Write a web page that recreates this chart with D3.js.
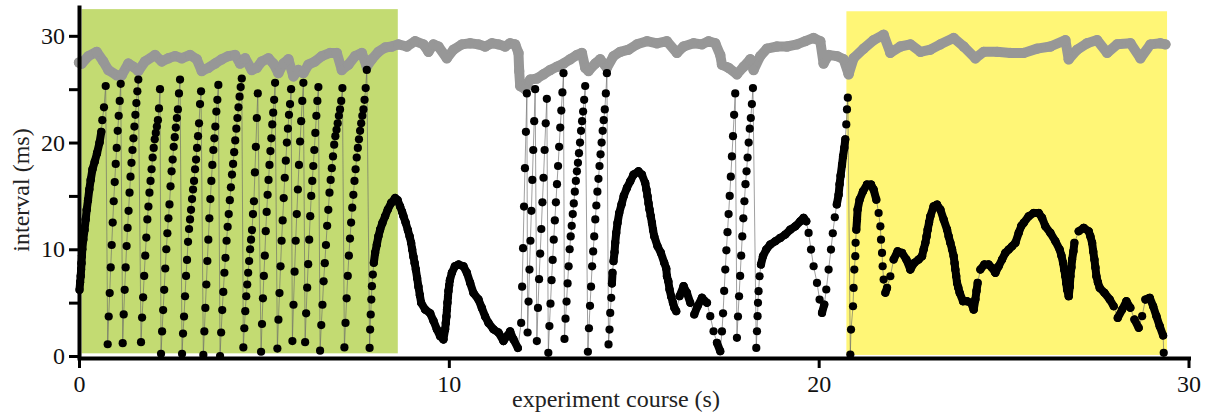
<!DOCTYPE html>
<html><head><meta charset="utf-8">
<script src="https://cdn.jsdelivr.net/npm/d3@7"></script>
<style>
html,body{margin:0;padding:0;background:#fff;}
svg{display:block;}
</style></head>
<body><svg id="chart" width="1209" height="416"></svg>
<script>
// ---- data ----
const xTicks = [0, 10, 20, 30];
const yTicks = [0, 5, 10, 15, 20, 25, 30];
const yTickLabels = ["0", "", "10", "", "20", "", "30"];
const xTitle = "experiment course (s)";
const yTitle = "interval (ms)";

// shaded epochs (s, ms)
const regionStart = [0.07, 20.75];
const regionEnd = [8.62, 29.42];
const regionLow = [0.25, 0.1];
const regionHigh = [32.5, 32.3];

// grey series: [time s, interval ms]
const grayPoints = [[0,27.5],[0.073,27.4],[0.252,28.1],[0.479,28.5],[0.657,27.6],[0.793,26.8],[1.020,26.3],[1.155,26.3],[1.334,27.4],[1.469,27.1],[1.604,26.7],[1.785,27.6],[2.056,28.2],[2.237,27.6],[2.416,27.9],[2.597,28.1],[2.778,27.9],[3.003,28.2],[3.184,27.8],[3.319,26.7],[3.498,27.0],[3.679,27.4],[3.860,27.8],[4.039,28.1],[4.220,28.2],[4.355,27.4],[4.490,27.9],[4.672,26.8],[4.807,27.0],[4.942,27.6],[5.121,27.9],[5.256,27.4],[5.391,26.5],[5.526,27.4],[5.662,27.8],[5.797,26.2],[5.932,26.8],[6.067,26.5],[6.203,27.3],[6.384,27.6],[6.565,28.1],[6.790,28.4],[6.971,28.4],[7.106,26.8],[7.285,27.3],[7.466,28.1],[7.647,28.4],[7.782,27.1],[7.918,27.8],[8.096,28.5],[8.277,28.9],[8.459,29.0],[8.637,29.2],[8.864,29.0],[9.089,29.5],[9.313,29.2],[9.449,28.5],[9.584,29.2],[9.719,29.0],[9.946,27.9],[10.125,28.7],[10.352,29.2],[10.577,29.3],[10.801,29.2],[10.982,29.0],[11.164,29.3],[11.342,29.2],[11.523,29.0],[11.658,29.3],[11.794,29.2],[11.883,28.4],[11.902,26.7],[11.929,25.3],[12.064,25.0],[12.200,25.9],[12.381,26.0],[12.560,26.4],[12.741,26.8],[12.922,27.1],[13.101,27.4],[13.282,27.8],[13.463,28.2],[13.598,28.4],[13.688,27.0],[13.777,26.7],[13.958,27.4],[14.093,27.8],[14.274,27.0],[14.453,28.1],[14.634,28.5],[14.858,28.7],[15.086,29.2],[15.356,29.5],[15.627,29.3],[15.897,29.5],[16.168,28.4],[16.346,29.0],[16.617,29.3],[16.844,29.2],[17.023,29.5],[17.204,29.3],[17.339,28.2],[17.385,27.3],[17.564,27.0],[17.791,26.4],[17.970,27.1],[18.151,27.8],[18.240,26.8],[18.421,28.1],[18.602,28.8],[18.873,29.0],[19.143,29.0],[19.414,29.2],[19.638,29.5],[19.863,29.8],[20.044,29.5],[20.133,27.4],[20.269,28.2],[20.496,28.1],[20.675,27.8],[20.810,26.4],[20.945,27.9],[21.216,28.8],[21.486,29.6],[21.757,30.1],[21.938,28.4],[22.209,29.0],[22.479,29.2],[22.750,28.5],[23.020,28.7],[23.290,29.2],[23.650,29.8],[23.921,29.0],[24.237,27.9],[24.462,28.5],[24.824,28.5],[25.184,28.4],[25.543,28.4],[25.906,28.8],[26.265,29.0],[26.671,29.6],[26.761,27.8],[26.988,28.7],[27.259,29.3],[27.529,29.6],[27.800,28.4],[28.070,29.2],[28.430,29.3],[28.700,27.9],[28.971,29.2],[29.241,29.3],[29.376,29.2]];

// black series, wrapping "teeth": first/last beat time (s) and the interval values (ms) of each beat
const toothStart = [0.776,1.182,1.677,2.218,2.786,3.362,3.814,4.444,4.923,5.364,5.770,6.114,6.519,7.176, 11.956,12.13,12.38,12.69,13.127,13.76, 17.385,17.79];
const toothEnd   = [1.128,1.604,2.191,2.732,3.300,3.768,4.401,4.834,5.302,5.735,6.067,6.473,7.122,7.782, 12.110,12.334,12.65,13.10,13.687,14.274, 17.744,18.223];
const toothValues = [
  [1.1,3.7,5.9,8.3,10.4,12.5,14.5,16.3,18.0,19.5,21.1,22.5,23.9,25.5],
  [1.2,3.9,6.2,8.3,10.3,12.0,13.6,15.3,16.8,18.1,19.3,20.4,21.5,22.6,23.7,24.8,25.9],
  [1.3,3.6,5.5,7.5,9.4,11.1,12.8,14.0,15.3,16.4,17.5,18.6,19.5,20.3,20.9,21.5,22.1,23.2,25.0],
  [0.2,2.3,4.3,6.2,8.2,10.0,11.5,12.9,14.2,15.9,17.3,18.4,19.6,20.5,21.4,22.3,23.1,24.6,25.9],
  [0.2,2.1,3.7,5.6,7.5,9.0,10.7,11.9,12.8,13.7,14.7,15.6,16.4,17.5,18.4,19.5,20.6,21.8,23.6,24.8],
  [0.1,2.3,4.5,6.7,8.9,10.9,12.9,14.7,16.4,17.9,19.3,20.4,21.5,22.9,24.0,25.4],
  [0.0,2.2,4.3,6.0,7.8,9.2,10.8,12.1,13.3,14.6,15.8,17.0,18.0,19.1,20.2,21.3,22.3,23.3,24.3,25.2,26.0],
  [0.8,2.6,4.2,5.6,6.7,7.8,8.9,10.0,10.9,11.8,13.3,14.5,17.2,19.6,22.3,24.6],
  [0.4,3.0,5.4,7.5,9.4,11.7,13.5,15.1,16.5,17.9,19.2,20.4,21.7,22.8,24.0,25.6],
  [0.7,3.4,5.9,8.4,10.8,12.7,14.8,16.7,18.3,20.0,21.3,22.6,23.6,25.0],
  [1.4,4.8,7.9,10.8,13.3,15.6,17.9,20.1,22.0,23.9,25.6],
  [1.3,4.0,6.4,8.6,10.9,13.1,15.0,16.4,17.8,19.3,20.9,22.5,23.9,25.2],
  [0.5,2.9,4.8,7.0,8.7,10.4,12.2,13.7,15.3,16.5,17.6,18.7,19.8,20.6,21.2,21.8,22.5,23.1,23.9,25.1],
  [0.8,3.1,5.4,7.5,9.4,11.0,12.5,13.9,15.1,16.4,17.5,18.6,19.5,20.3,21.1,21.8,22.5,23.1,24.0,25.1,26.8],
  [3.1,6.5,10.1,14.0,17.6,21.0,24.6],
  [2.2,5.1,8.1,10.8,13.6,16.5,19.3,22.0,25.0],
  [1.4,4.5,7.2,9.6,11.9,14.4,16.7,19.3,21.8,24.1],
  [0.3,2.8,4.9,7.1,9.0,10.9,12.7,14.4,16.1,17.8,19.6,21.4,23.0,24.7,26.5],
  [1.6,3.5,5.1,6.8,8.4,10.0,11.2,12.2,13.3,14.3,15.4,16.4,17.3,18.1,19.0,20.0,21.1,22.0,22.9,24.0,25.3],
  [0.4,2.6,4.7,6.5,8.4,9.8,11.2,12.8,14.1,15.4,16.6,17.8,18.9,20.0,21.1,22.1,23.1,24.6,26.5],
  [2.3,4.0,6.1,8.1,9.9,11.6,13.3,15.0,16.8,18.7,20.6,22.6,24.6],
  [1.7,3.7,5.6,7.5,9.4,11.2,12.9,14.5,16.1,17.3,18.6,20.0,21.3,22.3,23.6,25.1]
];

// black series, continuous stretches: [time s, interval ms]
const curvePoints = [
  [0.014,6.2],[0.030,6.9],[0.046,7.5],[0.057,8.1],[0.068,8.7],[0.079,9.4],[0.089,10.0],[0.116,10.9],[0.149,11.8],[0.181,12.8],[0.208,13.7],[0.243,14.6],[0.279,15.6],[0.316,16.5],[0.365,17.5],[0.424,18.2],[0.487,19.0],[0.555,20.0],[0.603,21.0],[0.630,22.1],[0.676,23.3],[0.722,25.3],
  [7.858,0.76],[7.872,2.48],[7.888,3.89],[7.904,5.29],[7.920,6.54],[7.945,7.63],[7.972,8.73],[8.007,9.66],[8.053,10.44],[8.096,11.22],[8.142,11.84],[8.204,12.47],[8.277,13.09],[8.350,13.72],[8.440,14.34],[8.548,14.8],[8.615,14.6],[8.683,14.0],[8.737,13.5],[8.773,13.1],[8.832,12.5],[8.892,11.8],[8.940,11.2],[8.981,10.6],[9.008,10.0],[9.043,9.3],[9.076,8.7],[9.108,8.1],[9.143,7.3],[9.178,6.5],[9.216,5.7],[9.251,5.0],[9.359,4.35],[9.495,4.0],[9.584,3.3],[9.676,2.5],[9.765,1.85],[9.854,1.55],[9.900,2.5],[9.918,3.1],[9.935,3.7],[9.949,4.35],[9.963,5.0],[9.977,5.55],[9.990,6.1],[10.009,6.6],[10.028,7.1],[10.082,7.8],[10.163,8.4],[10.260,8.57],[10.395,8.4],[10.488,7.8],[10.577,6.85],[10.666,5.9],[10.801,5.3],[10.893,4.5],[10.982,3.7],[11.072,3.1],[11.207,2.5],[11.342,2.2],[11.477,1.4],[11.569,1.85],[11.658,2.3],[11.748,1.55],[11.867,0.75],
  [14.318,1.08],[14.345,2.48],[14.364,4.04],[14.391,5.45],[14.410,6.79],[14.426,7.79],[14.453,8.88],[14.480,9.72],[14.499,10.6],[14.526,11.53],[14.561,12.47],[14.607,13.4],[14.669,14.2],[14.729,15.0],[14.815,15.75],[14.905,16.37],[14.994,16.99],[15.129,17.3],[15.221,16.99],[15.310,16.2],[15.343,15.6],[15.373,14.96],[15.400,14.3],[15.427,13.72],[15.460,13.1],[15.492,12.47],[15.522,11.8],[15.554,11.22],[15.643,10.28],[15.735,9.66],[15.824,8.73],[15.879,8.2],[15.897,7.47],[15.935,7.0],[15.968,6.23],[16.010,5.6],[16.060,4.98],[16.100,4.5],[16.149,4.2],[16.238,5.6],[16.347,6.54],[16.439,5.91],[16.528,4.98],[16.636,3.89],[16.725,4.66],[16.844,5.45],[16.980,4.98],[17.069,3.73],[17.158,2.32],[17.250,1.24],[17.339,0.45],
  [18.313,0.76],[18.332,2.32],[18.348,3.73],[18.359,4.98],[18.375,6.07],[18.402,7.47],[18.440,8.57],[18.494,9.35],[18.583,9.97],[18.691,10.44],[18.827,10.75],[18.962,11.06],[19.097,11.38],[19.232,11.84],[19.368,12.15],[19.503,12.62],[19.592,12.94],[19.665,12.62],[19.728,11.53],[19.793,9.97],[19.863,8.41],[19.955,6.85],[20.025,5.29],[20.090,4.04],[20.152,4.82],[20.206,6.23],[20.269,8.1],[20.333,9.97],[20.382,11.5],[20.436,13.0],[20.490,14.2],[20.539,15.1],[20.566,16.1],[20.593,16.9],[20.631,17.9],[20.658,18.7],[20.693,19.5],[20.720,20.3],[20.747,21.7],[20.766,23.1],[20.788,24.2],
  [20.856,0.14],[20.875,2.48],[20.929,4.66],[20.945,6.38],[20.964,8.1],[20.991,9.35],[20.999,10.6],[21.018,11.84],[21.037,12.78],[21.053,13.72],[21.107,14.65],[21.199,15.43],[21.307,16.06],[21.416,16.06],[21.486,15.59],[21.559,14.65],[21.621,13.4],[21.668,12.15],[21.686,10.9],[21.713,9.66],[21.730,8.41],[21.757,7.16],[21.803,5.92],[21.849,6.38],[21.938,7.47],[22.027,9.04],[22.135,9.81],[22.254,9.66],[22.371,9.04],[22.479,8.1],[22.587,8.73],[22.703,9.04],[22.795,9.35],[22.840,10.0],[22.885,10.6],[22.917,11.2],[22.947,11.84],[22.985,12.5],[23.020,13.09],[23.109,14.03],[23.201,14.18],[23.290,13.72],[23.380,12.78],[23.472,11.84],[23.515,11.2],[23.561,10.6],[23.607,10.0],[23.650,9.35],[23.675,8.7],[23.696,8.1],[23.719,7.5],[23.742,6.85],[23.776,6.4],[23.812,5.92],[23.904,5.13],[24.012,5.13],[24.120,4.98],[24.191,4.35],[24.237,5.29],[24.268,6.1],[24.299,6.85],[24.372,8.1],[24.480,8.57],[24.596,8.57],[24.688,8.26],[24.777,7.79],[24.867,8.41],[24.959,9.04],[25.048,9.66],[25.137,9.97],[25.229,10.28],[25.319,10.6],[25.408,11.53],[25.481,12.2],[25.543,12.47],[25.679,13.09],[25.814,13.4],[25.949,13.4],[26.041,12.94],[26.130,12.15],[26.265,11.53],[26.401,10.75],[26.517,9.97],[26.564,9.4],[26.609,8.73],[26.639,8.1],[26.671,7.47],[26.693,6.85],[26.717,6.23],[26.761,5.6],[26.790,6.5],[26.807,7.47],[26.834,8.3],[26.853,9.04],[26.888,9.8],[26.915,10.6],[27.031,11.69],[27.167,12.0],[27.302,11.69],[27.348,11.2],[27.394,10.6],[27.424,9.8],[27.456,9.04],[27.483,8.3],[27.510,7.47],[27.550,6.9],[27.600,6.38],[27.727,5.92],[27.870,5.29],[27.978,4.66],[28.087,3.57],[28.206,4.35],[28.321,5.13],[28.429,4.51],[28.538,3.42],[28.654,2.64],[28.746,3.73],[28.835,5.29],[28.952,5.45],[29.044,4.66],[29.133,3.73],[29.222,2.79],[29.314,1.92],[29.330,0.3]
];

// ---- drawing ----
const svg = d3.select("#chart");
const x = d3.scaleLinear().domain([0, 30]).range([79, 1188.5]);
const y = d3.scaleLinear().domain([0, 32.7]).range([356, 7]);
const FONT = "'Liberation Serif','Times New Roman',serif";

// shaded epochs
const regionFill = ["#c3db72", "#fff676"];
svg.append("g").selectAll("rect").data(regionStart).join("rect")
  .attr("x", (d, i) => x(d))
  .attr("width", (d, i) => x(regionEnd[i]) - x(d))
  .attr("y", (d, i) => y(regionHigh[i]))
  .attr("height", (d, i) => y(regionLow[i]) - y(regionHigh[i]))
  .attr("fill", (d, i) => regionFill[i]);

const line = d3.line().x(d => x(d.t)).y(d => y(d.v));

// grey series (dense overlapping dots -> band)
const grayData = grayPoints.map(([t, v]) => ({t, v}));
svg.append("path").datum(grayData).attr("d", line)
  .attr("fill", "none").attr("stroke", "#979797").attr("stroke-width", 10)
  .attr("stroke-linejoin", "round").attr("stroke-linecap", "round");
svg.append("g").selectAll("circle").data(grayData).join("circle")
  .attr("cx", d => x(d.t)).attr("cy", d => y(d.v)).attr("r", 5.2).attr("fill", "#979797");

// black series
const toothData = toothStart.flatMap((s, i) => toothValues[i].map((v, j, arr) => ({
  t: s + (toothEnd[i] - s) * j / (arr.length - 1), v})));
const curveData = curvePoints.map(([t, v]) => ({t, v}));
const blackData = toothData.concat(curveData).sort((a, b) => a.t - b.t);

// thin connecting line through all beats
svg.append("path").datum(blackData).attr("d", line)
  .attr("fill", "none").attr("stroke", "#6a6a6a").attr("stroke-opacity", 0.8).attr("stroke-width", 0.8);

// where successive beats of a continuous stretch lie close, their dots merge into a band
const pairs = d3.pairs(curveData).filter(([a, b]) =>
  Math.hypot(x(b.t) - x(a.t), y(b.v) - y(a.v)) < 11);
svg.append("g").selectAll("line").data(pairs).join("line")
  .attr("x1", d => x(d[0].t)).attr("y1", d => y(d[0].v))
  .attr("x2", d => x(d[1].t)).attr("y2", d => y(d[1].v))
  .attr("stroke", "#000").attr("stroke-width", 8).attr("stroke-linecap", "round");

svg.append("g").selectAll("circle").data(blackData).join("circle")
  .attr("cx", d => x(d.t)).attr("cy", d => y(d.v)).attr("r", 4.1).attr("fill", "#000");

// axes
const gx = svg.append("g").attr("transform", "translate(0,358)")
  .call(d3.axisBottom(x).tickValues(xTicks).tickSize(10).tickSizeOuter(0).tickPadding(7).tickFormat(d3.format("d")));
const gy = svg.append("g").attr("transform", "translate(79,0)")
  .call(d3.axisLeft(y).tickValues(yTicks).tickSize(10).tickSizeOuter(0).tickPadding(4)
    .tickFormat((d, i) => yTickLabels[i]));
[gx, gy].forEach(g => {
  g.select(".domain").attr("stroke", "#000").attr("stroke-width", 4).attr("stroke-linecap", "square");
  g.selectAll(".tick line").attr("stroke", "#000").attr("stroke-width", 3);
  g.selectAll(".tick text").attr("font-family", FONT).attr("font-size", 24).attr("fill", "#111");
});

svg.append("text").attr("x", 616).attr("y", 407).attr("text-anchor", "middle")
  .attr("font-family", FONT).attr("font-size", 24).attr("fill", "#222").text(xTitle);
svg.append("text").attr("transform", "translate(29,190) rotate(-90)").attr("text-anchor", "middle")
  .attr("font-family", FONT).attr("font-size", 24).attr("fill", "#222").text(yTitle);
</script>
</body></html>
